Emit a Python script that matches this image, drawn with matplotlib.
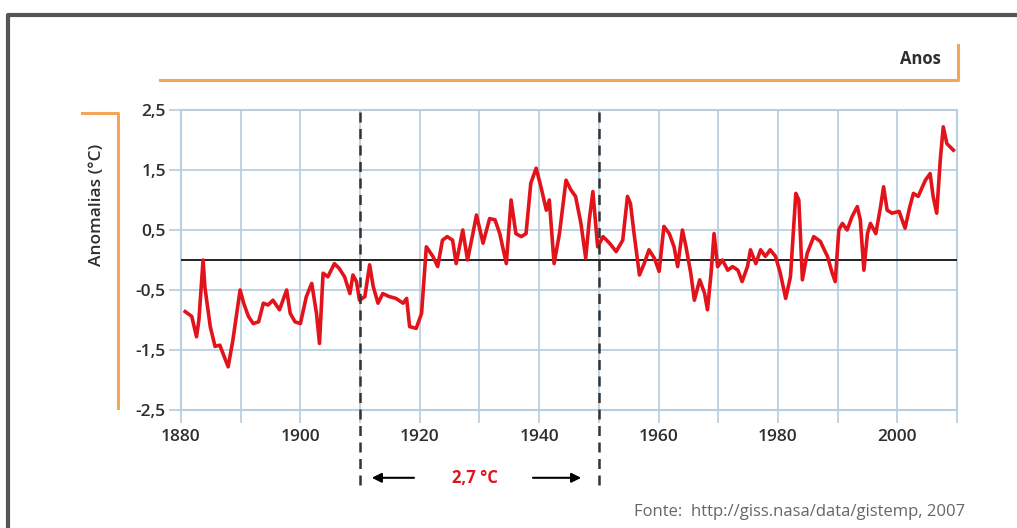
import matplotlib
matplotlib.use("Agg")
from matplotlib import pyplot as plt
from matplotlib.lines import Line2D

# anomalias (ano, valor)
years = [1880.7, 1881.8, 1882.6, 1883.0, 1883.7, 1884.0, 1884.9, 1885.7, 1886.5, 1887.0,
         1887.9, 1888.7, 1889.9, 1890.5, 1891.3, 1892.1, 1893.0, 1893.8, 1894.6, 1895.4,
         1896.5, 1897.7, 1898.3, 1899.1, 1900.0, 1901.0, 1901.9, 1902.7, 1903.2, 1903.8,
         1904.6, 1905.7, 1906.5, 1907.4, 1908.3, 1908.8, 1909.4, 1909.9, 1910.8, 1911.6,
         1912.2, 1913.0, 1913.8, 1914.9, 1916.0, 1917.2, 1917.8, 1918.3, 1919.4, 1920.3,
         1921.1, 1922.2, 1923.0, 1923.8, 1924.6, 1925.5, 1926.1, 1927.2, 1928.0, 1928.9,
         1929.5, 1930.6, 1931.7, 1932.6, 1933.4, 1934.5, 1935.3, 1936.1, 1937.0, 1937.8,
         1938.6, 1939.5, 1940.3, 1941.2, 1941.7, 1942.5, 1943.4, 1944.5, 1945.3, 1946.1,
         1947.0, 1947.8, 1948.4, 1949.0, 1949.8, 1950.7, 1951.8, 1952.9, 1954.0, 1954.8,
         1955.3, 1955.9, 1956.8, 1957.6, 1958.4, 1959.3, 1960.1, 1960.9, 1961.8, 1962.6,
         1963.2, 1964.0, 1964.6, 1965.4, 1966.0, 1966.9, 1967.7, 1968.2, 1968.8, 1969.3,
         1969.9, 1970.7, 1971.6, 1972.4, 1973.3, 1974.0, 1974.9, 1975.4, 1976.3, 1977.1,
         1977.9, 1978.7, 1979.6, 1980.4, 1981.3, 1982.1, 1983.0, 1983.5, 1984.1, 1984.9,
         1986.0, 1987.1, 1988.3, 1989.1, 1989.6, 1990.2, 1990.8, 1991.6, 1992.4, 1993.3,
         1993.8, 1994.4, 1995.0, 1995.5, 1996.4, 1997.2, 1997.7, 1998.3, 1999.1, 2000.3,
         2001.3, 2002.1, 2002.7, 2003.5, 2004.7, 2005.5, 2006.0, 2006.6, 2007.2, 2007.7,
         2008.3, 2009.4]
anoms = [-0.86, -0.94, -1.28, -1.00, 0.00, -0.45, -1.11, -1.44, -1.42, -1.55,
         -1.78, -1.33, -0.50, -0.72, -0.94, -1.06, -1.03, -0.72, -0.75, -0.67,
         -0.83, -0.50, -0.89, -1.03, -1.06, -0.61, -0.39, -0.89, -1.39, -0.22,
         -0.28, -0.06, -0.14, -0.28, -0.56, -0.25, -0.36, -0.67, -0.61, -0.08,
         -0.44, -0.72, -0.56, -0.61, -0.64, -0.72, -0.64, -1.11, -1.14, -0.89,
         0.22, 0.06, -0.11, 0.33, 0.39, 0.33, -0.06, 0.50, 0.00, 0.44,
         0.75, 0.28, 0.69, 0.67, 0.44, -0.06, 1.00, 0.44, 0.39, 0.44,
         1.28, 1.53, 1.22, 0.83, 1.00, -0.06, 0.44, 1.33, 1.17, 1.06,
         0.61, 0.03, 0.67, 1.14, 0.22, 0.39, 0.28, 0.14, 0.33, 1.06,
         0.94, 0.44, -0.25, -0.06, 0.17, 0.03, -0.19, 0.56, 0.44, 0.22,
         -0.11, 0.50, 0.22, -0.22, -0.67, -0.33, -0.55, -0.83, -0.22, 0.44,
         -0.11, 0.00, -0.17, -0.11, -0.17, -0.36, -0.11, 0.17, -0.06, 0.17,
         0.06, 0.17, 0.06, -0.22, -0.64, -0.28, 1.11, 1.00, -0.33, 0.11,
         0.39, 0.31, 0.06, -0.22, -0.36, 0.50, 0.61, 0.50, 0.72, 0.89,
         0.67, -0.17, 0.44, 0.61, 0.44, 0.89, 1.22, 0.83, 0.78, 0.81,
         0.53, 0.89, 1.11, 1.06, 1.33, 1.44, 1.06, 0.78, 1.67, 2.22,
         1.94, 1.83]

x_ticks = [1880, 1900, 1920, 1940, 1960, 1980, 2000]
y_ticks = [2.5, 1.5, 0.5, -0.5, -1.5, -2.5]
y_labels = ['2,5', '1,5', '0,5', '-0,5', '-1,5', '-2,5']

W, H = 1017, 528
fig = plt.figure(figsize=(W / 100, H / 100), dpi=100)
fig.patch.set_facecolor('white')
plt.rcParams['font.family'] = ['Open Sans', 'DejaVu Sans']

ax = fig.add_axes([181 / W, 1 - 410 / H, (957 - 181) / W, 300 / H])
grid_c = '#b9cfe0'
ax.set_xlim(1880, 2010)
ax.set_ylim(-2.5, 2.5)
for s in ax.spines.values():
    s.set_color(grid_c)
    s.set_linewidth(1.5)

ax.set_xticks(range(1880, 2011, 10))
ax.set_xticklabels([str(y) if y in x_ticks else '' for y in range(1880, 2011, 10)])
ax.set_yticks(y_ticks)
ax.set_yticklabels(y_labels)
ax.grid(True, color=grid_c, linewidth=1.3)
ax.tick_params(axis='both', colors=grid_c, length=9, width=1.3, labelcolor='#2e2e2e',
               labelsize=12.5)
for lab in ax.get_xticklabels() + ax.get_yticklabels():
    lab.set_fontweight('semibold')
ax.tick_params(axis='x', pad=5)
ax.tick_params(axis='y', pad=2)

ax.axhline(0, color='#222222', linewidth=1.4, zorder=3)
ax.plot(years, anoms, color='#e3131b', linewidth=2.6, zorder=4)

# linhas tracejadas 1910 e 1950
for xv in (1910, 1950):
    ax.axvline(xv, ymin=-0.25, ymax=1, color='#333333', linewidth=1.8,
               linestyle=(0, (4, 2.6)), clip_on=False, zorder=5)

# seta 2,7 °C
ya = -3.63
ax.annotate('', xy=(1911.5, ya), xytext=(1919.5, ya), xycoords='data',
            arrowprops=dict(arrowstyle='-|>', color='black', lw=1.5, mutation_scale=14),
            annotation_clip=False)
ax.annotate('', xy=(1947.5, ya), xytext=(1938.5, ya), xycoords='data',
            arrowprops=dict(arrowstyle='-|>', color='black', lw=1.5, mutation_scale=14),
            annotation_clip=False)
ax.text(1929.2, ya, '2,7 °C', color='#e3131b', fontsize=12, fontweight='bold',
        ha='center', va='center', clip_on=False)

# decoracao laranja
orange = '#f3a65a'
def fline(xs, ys, **kw):
    fig.add_artist(Line2D([x / W for x in xs], [1 - y / H for y in ys],
                          transform=fig.transFigure, **kw))

fline([160, 958, 958], [80, 80, 45], color=orange, linewidth=2.2)
fline([82, 118, 118], [113, 113, 408], color=orange, linewidth=2.2)

fig.text(941 / W, 1 - 59 / H, 'Anos', fontsize=12, fontweight='bold', color='#2e2e2e',
         ha='right', va='center')
fig.text(97 / W, 1 - 205 / H, 'Anomalias (°C)', fontsize=12.5, fontweight='semibold',
         color='#2e2e2e', rotation=90, ha='center', va='center')
fig.text(965 / W, 1 - 512 / H, 'Fonte:  http://giss.nasa/data/gistemp, 2007',
         fontsize=12, color='#666666', ha='right', va='center')

# moldura cinza
fline([8, 8, W], [H, 15, 15], color='#555555', linewidth=3)

fig.savefig('out.png', dpi=100, facecolor='white')
